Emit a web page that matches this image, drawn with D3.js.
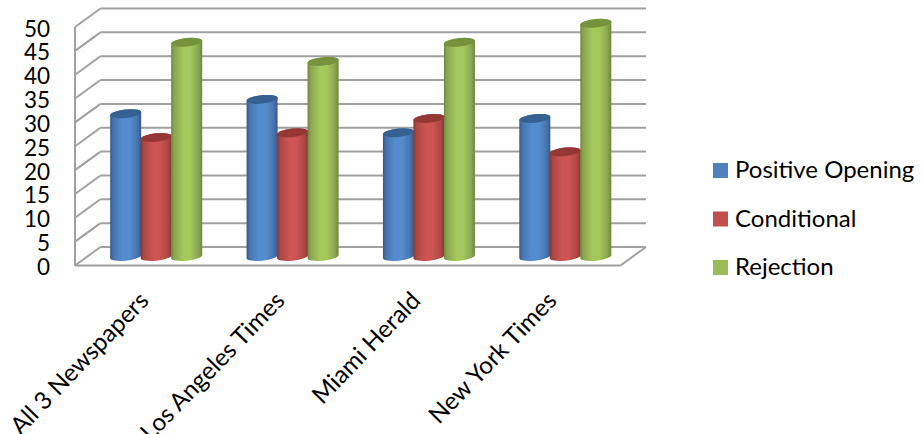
<!DOCTYPE html>
<html>
<head>
<meta charset="utf-8">
<script src="https://cdnjs.cloudflare.com/ajax/libs/d3/7.8.5/d3.min.js"></script>
<style>
html,body{margin:0;padding:0;background:#fff;overflow:hidden}
svg{display:block}
text{font-family:Lato,"Open Sans",sans-serif;fill:#000}
</style>
</head>
<body>
<svg id="chart" width="923" height="434"></svg>
<script>
const categories = ["All 3 Newspapers","Los Angeles Times","Miami Herald","New York Times"];
const seriesNames = ["Positive Opening","Conditional","Rejection"];
const positiveOpening = [30,33,26,29];
const conditional = [25,26,29,22];
const rejection = [45,41,45,49];
const yTicks = [0,5,10,15,20,25,30,35,40,45,50];
const seriesValues = [positiveOpening,conditional,rejection];
const flat = ["#4f81bd","#c0504d","#9bbb59"];
const shades = [
  {edge:"#36598a",side:"#4674ad",mid:"#548dcf",top:"#376092"},
  {edge:"#873634",side:"#ab4744",mid:"#cd5553",top:"#953735"},
  {edge:"#6e853f",side:"#8ba650",mid:"#a4c85c",top:"#76923c"}
];

const svg = d3.select("#chart");
const depthX = 25.5, depthY = -18.5;
const frontLeft = 75, frontRight = 620.5;
const yFront = d3.scaleLinear().domain([0,50]).range([265.5,27]);
const yBase = d3.scaleLinear().domain([0,50]).range([256.5,18.5]);
const xBand = d3.scaleBand().domain(categories).range([88,633.5]).paddingInner(0).paddingOuter(0);
const xLabel = d3.scalePoint().domain(categories).range([150,558]);
const groupWidth = 91.5;
const xSeries = d3.scaleBand().domain(seriesNames).range([0,groupWidth]);

// gradients
const defs = svg.append("defs");
shades.forEach((s,i)=>{
  const g = defs.append("linearGradient").attr("id","cyl"+i).attr("x1","0").attr("x2","1").attr("y1","0").attr("y2","0");
  [[0,s.edge],[0.1,s.side],[0.4,s.mid],[0.62,s.mid],[0.88,s.side],[1,s.edge]].forEach(d=>
    g.append("stop").attr("offset",d[0]).attr("stop-color",d[1]));
});

// walls and gridlines
const gridColor = "#a0a0a0";
const wall = svg.append("g").attr("fill","none").attr("stroke",gridColor).attr("stroke-width",2);
wall.selectAll("line.back").data(yTicks).join("line").attr("class","back")
  .attr("x1",d=> frontLeft+depthX).attr("x2",frontRight+depthX)
  .attr("y1",d=> yFront(d)+depthY).attr("y2",d=> yFront(d)+depthY);
wall.selectAll("line.side").data(yTicks).join("line").attr("class","side")
  .attr("x1",frontLeft).attr("x2",frontLeft+depthX)
  .attr("y1",d=> yFront(d)).attr("y2",d=> yFront(d)+depthY);
wall.append("line").attr("x1",frontLeft).attr("x2",frontLeft).attr("y1",yFront(0)).attr("y2",yFront(50));
wall.append("line").attr("x1",frontLeft).attr("x2",frontRight).attr("y1",yFront(0)).attr("y2",yFront(0));
wall.append("line").attr("x1",frontRight).attr("x2",frontRight+depthX).attr("y1",yFront(0)).attr("y2",yFront(0)+depthY);

// cylinders
const rxBar = 15.6, ryBar = 4.2, tiltDeg = -6;
const tx = rxBar*Math.cos(tiltDeg*Math.PI/180), ty = rxBar*Math.sin(-tiltDeg*Math.PI/180);
const groupOffset = (xBand.bandwidth()-groupWidth)/2;
seriesValues.forEach((vals,si)=>{
  const g = svg.append("g");
  categories.forEach((cat,ci)=>{
    const cx = xBand(cat)+groupOffset+xSeries(seriesNames[si])+xSeries.bandwidth()/2;
    const yT = yBase(vals[ci]), yB = yBase(0);
    g.append("path")
      .attr("fill",`url(#cyl${si})`)
      .attr("d",`M${cx-tx},${yT+ty}L${cx-tx},${yB+ty}A${rxBar},${ryBar} ${tiltDeg} 0 0 ${cx+tx},${yB-ty}L${cx+tx},${yT-ty}A${rxBar},${ryBar} ${tiltDeg} 0 0 ${cx-tx},${yT+ty}Z`);
    g.append("ellipse")
      .attr("cx",cx).attr("cy",yT).attr("rx",rxBar).attr("ry",ryBar)
      .attr("transform",`rotate(${tiltDeg} ${cx} ${yT})`)
      .attr("fill",shades[si].top);
  });
});

// y labels
svg.append("g").selectAll("text").data(yTicks).join("text")
  .attr("x",50).attr("y",d=> yFront(d)+9.5)
  .attr("text-anchor","end").attr("font-size",22.5)
  .text(d=>d);

// x labels
svg.append("g").selectAll("text").data(categories).join("text")
  .attr("text-anchor","end").attr("font-size",24.3)
  .attr("transform",d=>`translate(${xLabel(d)},302) rotate(-46)`)
  .text(d=>d);

// legend
const legendY = d3.scalePoint().domain(seriesNames).range([170.5,267.5]);
const lg = svg.append("g");
lg.selectAll("rect").data(seriesNames).join("rect")
  .attr("x",713).attr("y",d=>legendY(d)-7.5).attr("width",15).attr("height",15)
  .attr("fill",(d,i)=>flat[i]);
lg.selectAll("text").data(seriesNames).join("text")
  .attr("x",735).attr("y",d=>legendY(d)+7.5).attr("font-size",24)
  .text(d=>d);
</script>
</body>
</html>
